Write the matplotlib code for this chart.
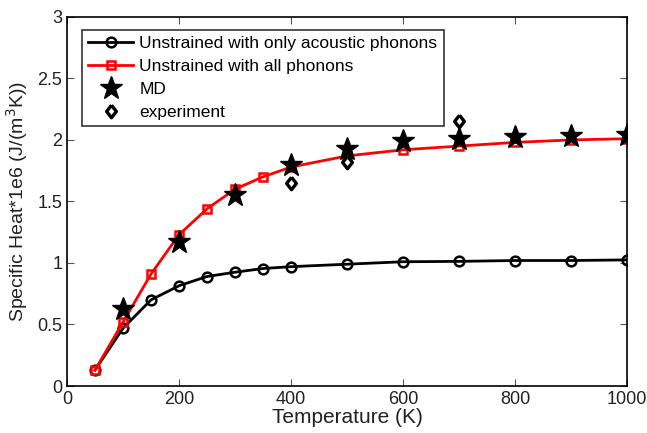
import matplotlib.pyplot as plt
from matplotlib.ticker import FormatStrFormatter

plt.rcParams['font.family'] = ['Liberation Sans', 'DejaVu Sans']

# temperatures (K)
temps = [50, 100, 150, 200, 250, 300, 350, 400, 500, 600, 700, 800, 900, 1000]
# specific heat * 1e6
acoustic = [0.13, 0.47, 0.70, 0.815, 0.89, 0.925, 0.955, 0.97, 0.99, 1.01, 1.013, 1.02, 1.02, 1.025]
all_phonons = [0.13, 0.52, 0.91, 1.23, 1.44, 1.60, 1.70, 1.78, 1.87, 1.92, 1.95, 1.98, 2.0, 2.01]

md_temps = [100, 200, 300, 400, 500, 600, 700, 800, 900, 1000]
md_vals = [0.63, 1.17, 1.55, 1.80, 1.93, 1.99, 2.01, 2.02, 2.03, 2.04]

exp_temps = [400, 500, 700]
exp_vals = [1.65, 1.82, 2.15]

# slightly tall diamond like matlab's
diamond = [(0, 1), (0.78, 0), (0, -1), (-0.78, 0), (0, 1)]

fig = plt.figure(figsize=(6.47, 4.33), dpi=100)
ax = fig.add_axes([0.1036, 0.1085, 0.8655, 0.8525])

ax.plot(temps, acoustic, color='black', lw=2, marker='o', ms=7, mfc='none', mew=1.8,
        label='Unstrained with only acoustic phonons')
ax.plot(temps, all_phonons, color='red', lw=2, marker='s', ms=6, mfc='none', mew=1.8,
        label='Unstrained with all phonons')
ax.plot(md_temps, md_vals, ls='none', marker='*', ms=17, color='black', label='MD')
ax.plot(exp_temps, exp_vals, ls='none', marker=diamond, ms=9, mfc='white', mec='black', mew=2.4,
        label='experiment')

ax.set_xlim(0, 1000)
ax.set_ylim(0, 3)
ax.set_xticks([0, 200, 400, 600, 800, 1000])
ax.set_yticks([0, 0.5, 1, 1.5, 2, 2.5, 3])
ax.yaxis.set_major_formatter(FormatStrFormatter('%g'))
ax.tick_params(direction='in', top=True, right=True, labelsize=13, length=5,
               color='#555555', width=0.8, labelcolor='#222222')
for s in ax.spines.values():
    s.set_linewidth(1.2)

ax.set_xlabel('Temperature (K)', fontsize=15, color='#222222', labelpad=0)
ax.set_ylabel('Specific Heat*1e6 (J/(m$^3$K))', fontsize=14, color='#222222', labelpad=5)

leg = ax.legend(loc='upper left', fontsize=12.5, frameon=True, fancybox=False,
                edgecolor='black', borderpad=0.35, labelspacing=0.45, handlelength=2.6,
                handletextpad=0.35, borderaxespad=0, bbox_to_anchor=(0.027, 0.965))
leg.get_frame().set_linewidth(1.2)

fig.savefig('out.png', dpi=100)
